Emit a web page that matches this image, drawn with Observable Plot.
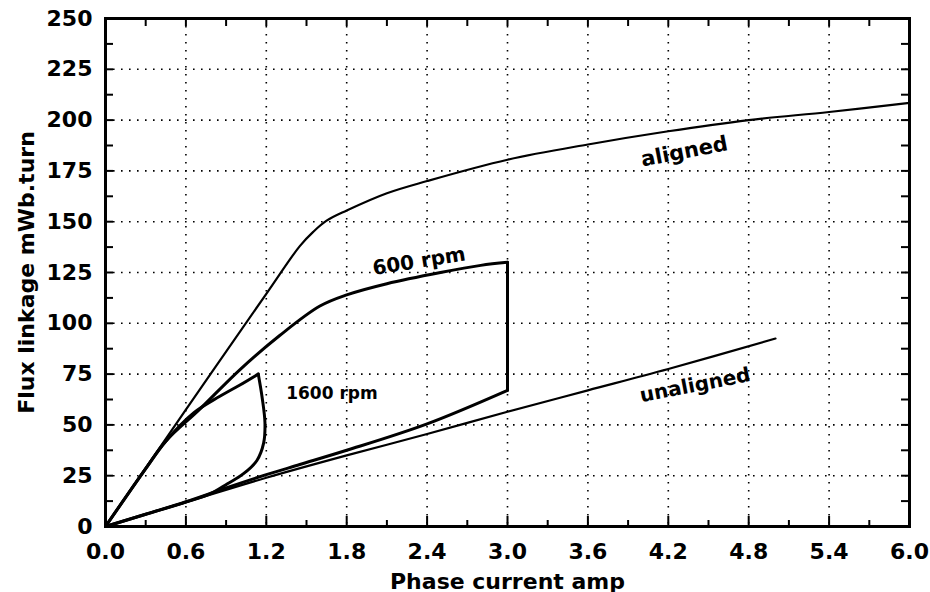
<!DOCTYPE html>
<html>
<head>
<meta charset="utf-8">
<script src="https://cdn.jsdelivr.net/npm/d3@7"></script>
<script src="https://cdn.jsdelivr.net/npm/@observablehq/plot@0.6"></script>
<style>
  html, body { margin: 0; padding: 0; background: #fff; }
  #chart { width: 930px; height: 592px; }
</style>
</head>
<body>
<div id="chart"></div>
<script>
// ---- tick values ----
const xTicks = [0.0, 0.6, 1.2, 1.8, 2.4, 3.0, 3.6, 4.2, 4.8, 5.4, 6.0];
const yTicks = [0, 25, 50, 75, 100, 125, 150, 175, 200, 225, 250];
const xMinorTicks = [0.3, 0.9, 1.5, 2.1, 2.7, 3.3, 3.9, 4.5, 5.1, 5.7];
const yMinorTicks = [12.5, 37.5, 62.5, 87.5, 112.5, 137.5, 162.5, 187.5, 212.5, 237.5];

// ---- series (x = phase current A, y = flux linkage mWb.turn) ----
const aligned = [[0,0],[0.6,57.5],[1.2,114.5],[1.45,138],[1.55,145],[1.65,150.5],[1.8,155.5],
  [2.1,164],[2.4,170],[3.0,180.5],[3.6,188],[4.2,194.5],[4.8,200],[5.4,204],[6.0,208.5]];
const unaligned = [[0,0],[0.6,12],[1.2,24],[1.8,35],[2.4,45.5],[3.0,56.5],[3.6,67],[4.2,77.5],[5.0,92.5]];
const rpm600Rise = [[0,0],[0.3,28.5],[0.45,42],[0.7,57.5],[1.0,77],[1.3,94],[1.6,108.5],[1.8,114],
  [2.1,119.5],[2.5,125],[2.8,128.5],[3.0,130]];
const rpm600Drop = [[3.0,130],[3.0,67]];
const rpm600Return = [[3.0,67],[2.4,50.5],[1.8,37.5],[1.45,30.5],[1.2,25.5],[0.9,19],[0.6,12.2],[0.3,6],[0,0]];
const rpm1600Rise = [[0,0],[0.3,28.5],[0.45,42],[0.66,56],[0.85,64],[1.0,69.5],[1.14,75]];
const rpm1600Fall = [[1.14,75],[1.17,63],[1.19,51],[1.18,41],[1.13,32.5],[1.03,26],[0.91,21],[0.78,16],
  [0.6,12],[0.3,6],[0,0]];

// ---- labels ----
const curveLabels = [
  {text: "aligned",   x: 4.32, y: 184.5, rotate: -11, size: 21},
  {text: "600 rpm",   x: 2.34, y: 130.5, rotate: -9,  size: 20},
  {text: "1600 rpm",  x: 1.69, y: 65.3,  rotate: 0,   size: 17},
  {text: "unaligned", x: 4.40, y: 69.5,  rotate: -11, size: 20}
];
const xTitle = "Phase current amp";
const yTitle = "Flux linkage mWb.turn";

// ---- build tables ----
const toRows = (arr, seg) => arr.map(([x, y]) => ({x, y, seg}));
const thin = [...toRows(aligned, "aligned"), ...toRows(unaligned, "unaligned")];
const thick = [
  ...toRows(rpm600Rise, "600a"), ...toRows(rpm600Return, "600c"),
  ...toRows(rpm1600Rise, "1600a"), ...toRows(rpm1600Fall, "1600b")
];
const straight = toRows(rpm600Drop, "600b");

const W = 930, H = 592, mL = 105, mR = 21, mT = 18, mB = 66;
const innerW = W - mL - mR, innerH = H - mT - mB;
const gridX = xTicks.slice(1, -1), gridY = yTicks.slice(1, -1);
const font = "DejaVu Sans";

const chart = Plot.plot({
  width: W, height: H,
  marginLeft: mL, marginRight: mR, marginTop: mT, marginBottom: mB,
  x: {domain: [0, 6]},
  y: {domain: [0, 250]},
  style: {fontFamily: font, fontWeight: "bold", fontSize: "22px", color: "black", background: "white"},
  marks: [
    Plot.gridX(gridX, {stroke: "black", strokeOpacity: 1, strokeWidth: 1.6, strokeDasharray: "1.6,6.4"}),
    Plot.gridY(gridY, {stroke: "black", strokeOpacity: 1, strokeWidth: 1.6, strokeDasharray: "1.6,6.4"}),
    // inward ticks
    Plot.tickX(gridX, {x: d => d, insetTop: innerH - 10, stroke: "black", strokeWidth: 2}),
    Plot.tickX(xMinorTicks, {x: d => d, insetTop: innerH - 6, stroke: "black", strokeWidth: 2}),
    Plot.tickX([...gridX, ...xMinorTicks], {x: d => d, insetBottom: innerH - 8, stroke: "black", strokeWidth: 2}),
    Plot.tickY([...gridY, ...yMinorTicks], {y: d => d, insetRight: innerW - 8, stroke: "black", strokeWidth: 2}),
    Plot.tickY([...gridY, ...yMinorTicks], {y: d => d, insetLeft: innerW - 8, stroke: "black", strokeWidth: 2}),
    // curves
    Plot.line(thin, {x: "x", y: "y", z: "seg", stroke: "black", strokeWidth: 2.2, curve: "catmull-rom"}),
    Plot.line(thick, {x: "x", y: "y", z: "seg", stroke: "black", strokeWidth: 3, curve: "catmull-rom", strokeLinejoin: "round"}),
    Plot.line(straight, {x: "x", y: "y", z: "seg", stroke: "black", strokeWidth: 3}),
    // curve labels
    ...curveLabels.map(l => Plot.text([l], {x: "x", y: "y", text: "text", rotate: l.rotate,
      fontSize: l.size, fontWeight: "bold", fontFamily: font, fill: "black"})),
    Plot.frame({stroke: "black", strokeWidth: 3}),
    // axes
    Plot.axisX(xTicks, {tickSize: 0, tickPadding: 17, tickFormat: d => d.toFixed(1), label: null,
      fontSize: 22, fontWeight: "bold", fontFamily: font}),
    Plot.axisY(yTicks, {tickSize: 0, tickPadding: 13, label: null,
      fontSize: 22, fontWeight: "bold", fontFamily: font}),
    // axis titles
    Plot.text([xTitle], {frameAnchor: "bottom", dy: 62, lineAnchor: "bottom", textAnchor: "middle", text: d => d,
      fontSize: 22, fontWeight: "bold", fontFamily: font, fill: "black"}),
    Plot.text([yTitle], {frameAnchor: "left", dx: -79, rotate: -90, textAnchor: "middle", lineAnchor: "middle",
      text: d => d, fontSize: 22, fontWeight: "bold", fontFamily: font, fill: "black"})
  ]
});
document.getElementById("chart").appendChild(chart);
</script>
</body>
</html>
